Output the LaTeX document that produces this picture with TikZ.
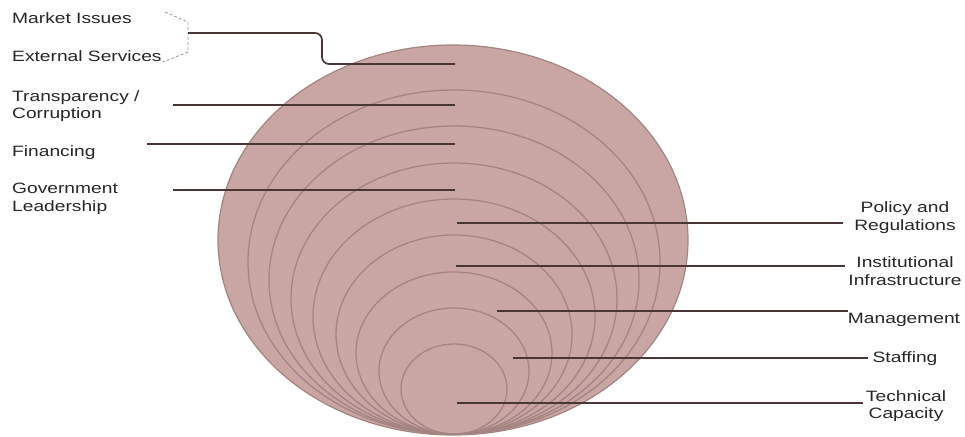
\documentclass[tikz,border=0pt]{standalone}
\usepackage{fontspec}
\setmainfont{Liberation Sans}[FakeStretch=1.28]
\begin{document}
\begin{tikzpicture}[x=1pt,y=-1pt,
  lbl/.style={inner sep=0pt,text=black!85,font=\fontsize{15}{17.8}\selectfont},
  lleft/.style={lbl,anchor=north west,align=left},
  lright/.style={lbl,anchor=north,align=center},
  ring/.style={draw=ringc,line width=1.3pt},
  conn/.style={draw=connc,line width=1.7pt},
  brace/.style={draw=gray!80,dashed,dash pattern=on 3pt off 2pt,line width=0.8pt}]
\definecolor{fillc}{HTML}{C9A5A3}
\definecolor{ringc}{HTML}{A38483}
\definecolor{connc}{HTML}{4A3636}
\useasboundingbox (0,0) rectangle (965,436);
% outer ellipse
\fill[fillc] (453,240) ellipse [x radius=235pt, y radius=195pt];
\draw[ringc,line width=1.2pt] (453,240) ellipse [x radius=235pt, y radius=195pt];
% inner rings
\foreach \t/\rx in {90/206,126/185,163/163,199/141,235/118,272/98,308/75,344/53}{
  \pgfmathsetmacro{\cy}{(\t+434)/2}
  \pgfmathsetmacro{\ry}{(434-\t)/2}
  \draw[ring] (454,\cy) ellipse [x radius=\rx pt, y radius=\ry pt];
}
% left labels
\node[lleft] (mkt) at (12,12.5) {Market Issues};
\node[lleft] (ext) at (12,50.5) {External Services};
\node[lleft] (trn) at (12,90) {Transparency /\\Corruption};
\node[lleft] (fin) at (12,145) {Financing};
\node[lleft] (gov) at (12,183) {Government\\Leadership};
% right labels
\node[lright] (pol) at (905,201.5) {Policy and\\Regulations};
\node[lright] (ins) at (905,256.5) {Institutional\\Infrastructure};
\node[lright] (man) at (904,313) {Management};
\node[lright] (sta) at (905,351.5) {Staffing};
\node[lright] (tec) at (906,390) {Technical\\Capacity};
% bracket
\coordinate (b1) at (165,12);
\coordinate (b2) at (188,22);
\coordinate (b3) at (188,52);
\coordinate (b4) at (163,62);
\coordinate (bm) at (188,33);
\draw[brace] (b1) -- (b2) -- (b3) -- (b4);
% connector endpoints
\coordinate (e0) at (455,64);
\coordinate (s1) at (173,105); \coordinate (e1) at (455,105);
\coordinate (s2) at (147,144); \coordinate (e2) at (455,144);
\coordinate (s3) at (173,190); \coordinate (e3) at (455,190);
\coordinate (r1) at (457,223); \coordinate (q1) at (843,223);
\coordinate (r2) at (456,266); \coordinate (q2) at (845,266);
\coordinate (r3) at (497,311); \coordinate (q3) at (848,311);
\coordinate (r4) at (513,358); \coordinate (q4) at (868,358);
\coordinate (r5) at (457,403); \coordinate (q5) at (863,403);
\draw[conn,rounded corners=7pt] (bm) -- (322,33) -- (322,64) -- (e0);
\draw[conn] (s1) -- (e1);
\draw[conn] (s2) -- (e2);
\draw[conn] (s3) -- (e3);
\draw[conn] (r1) -- (q1);
\draw[conn] (r2) -- (q2);
\draw[conn] (r3) -- (q3);
\draw[conn] (r4) -- (q4);
\draw[conn] (r5) -- (q5);
\end{tikzpicture}
\end{document}
